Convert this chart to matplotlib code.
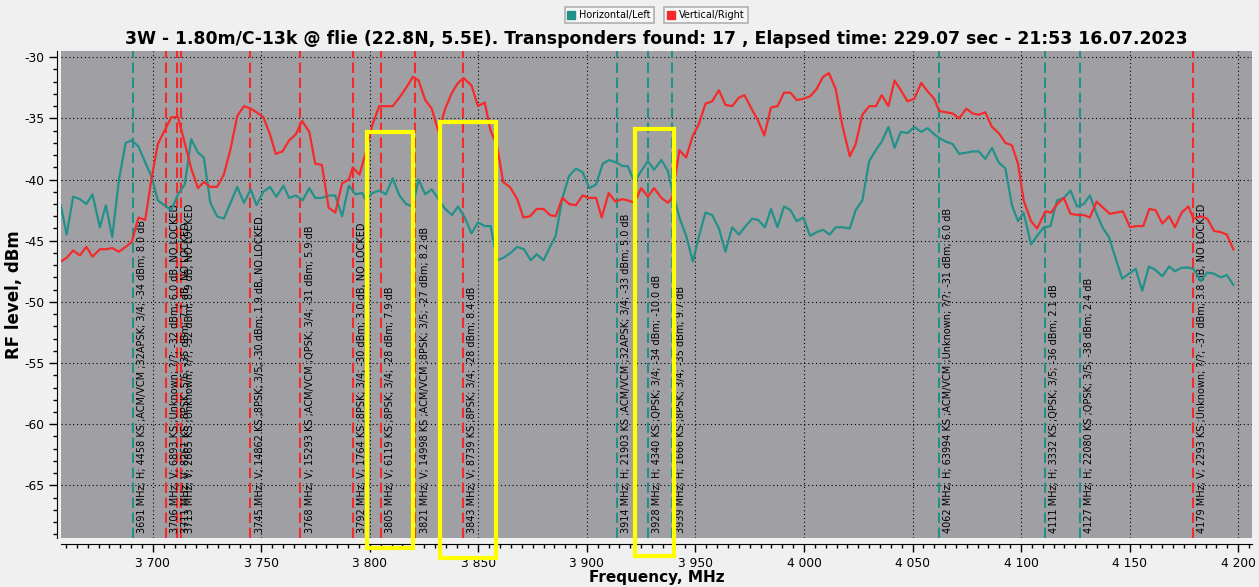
import matplotlib
matplotlib.use("Agg")
import matplotlib.pyplot as plt
from matplotlib.ticker import MultipleLocator, FuncFormatter
from matplotlib.lines import Line2D
from matplotlib.patches import Rectangle

# ---------------- data ----------------
h_freq = [3657.6, 3660.3, 3663.3, 3666.4, 3669.4, 3672.2, 3675.6, 3678.4, 3681.3, 3684.4,
          3687.5, 3690.3, 3693.4, 3696.5, 3699.5, 3702.3, 3705.4, 3708.5, 3711.6, 3714.7,
          3717.7, 3720.8, 3723.5, 3726.5, 3729.6, 3732.7, 3735.8, 3738.9, 3742.0, 3745.1,
          3747.8, 3750.9, 3754.0, 3756.9, 3760.2, 3762.8, 3765.9, 3769.0, 3772.1, 3774.8,
          3777.9, 3781.0, 3784.1, 3787.2, 3790.3, 3793.4, 3796.5, 3798.1, 3801.2, 3804.3,
          3807.4, 3810.5, 3813.6, 3816.7, 3819.8, 3822.4, 3825.5, 3828.5, 3831.6, 3834.7,
          3837.8, 3840.6, 3843.7, 3846.8, 3849.8, 3852.9, 3855.6, 3858.6, 3861.4, 3864.8,
          3867.9, 3871.0, 3874.1, 3876.9, 3880.0, 3883.0, 3885.6, 3888.7, 3891.8, 3894.9,
          3898.0, 3901.1, 3904.2, 3907.3, 3910.3, 3913.4, 3916.5, 3918.8, 3921.9, 3925.0,
          3928.1, 3930.9, 3934.3, 3937.3, 3939.2, 3942.6, 3945.7, 3948.8, 3951.5, 3954.6,
          3957.7, 3960.8, 3963.8, 3966.9, 3970.0, 3973.1, 3976.2, 3978.9, 3982.0, 3984.8,
          3987.8, 3990.8, 3993.8, 3996.6, 3999.7, 4002.8, 4005.8, 4008.8, 4011.8, 4014.6,
          4017.7, 4021.1, 4023.8, 4026.9, 4030.0, 4033.1, 4035.8, 4038.9, 4041.7, 4044.6,
          4047.7, 4050.8, 4054.0, 4057.0, 4060.0, 4062.3, 4065.4, 4068.5, 4071.5, 4074.8,
          4077.7, 4080.5, 4083.5, 4086.6, 4089.7, 4092.8, 4095.8, 4098.6, 4101.2, 4104.6,
          4107.4, 4110.5, 4113.5, 4116.6, 4119.7, 4122.8, 4125.8, 4128.9, 4131.7, 4134.8,
          4137.8, 4140.5, 4143.5, 4146.6, 4149.7, 4152.8, 4155.8, 4158.9, 4162.0, 4165.1,
          4168.2, 4170.9, 4174.0, 4177.1, 4179.4, 4182.8, 4185.8, 4188.9, 4192.0, 4194.8,
          4197.8]
h_level = [-42.1, -44.5, -41.4, -41.6, -42.0, -41.2, -43.9, -42.1, -44.7, -40.0,
           -37.0, -36.8, -37.3, -38.6, -39.8, -41.7, -42.1, -42.5, -41.2, -40.4,
           -36.7, -37.8, -38.2, -41.9, -43.0, -43.2, -41.9, -40.6, -41.9, -40.8,
           -42.1, -41.0, -40.6, -41.4, -40.5, -41.5, -41.3, -41.7, -40.7, -41.5,
           -41.5, -41.3, -41.3, -43.0, -40.5, -41.2, -41.1, -41.7, -41.1, -40.9,
           -41.2, -39.9, -41.3, -42.0, -42.2, -40.0, -41.2, -40.8, -41.6, -42.4,
           -42.9, -42.2, -43.1, -44.4, -43.5, -43.8, -43.8, -46.6, -46.4, -46.0,
           -45.5, -45.7, -46.6, -46.1, -46.6, -45.5, -44.6, -41.5, -39.7, -39.1,
           -39.4, -40.7, -40.4, -38.7, -38.4, -38.6, -38.9, -38.9, -40.2, -39.3,
           -38.5, -39.2, -38.4, -39.3, -40.8, -43.1, -44.6, -46.7, -44.7, -42.7,
           -42.9, -44.0, -45.9, -43.9, -44.5, -43.8, -43.2, -43.3, -43.9, -42.4,
           -43.9, -42.2, -42.5, -43.4, -43.1, -44.6, -44.3, -44.1, -44.5, -43.9,
           -43.9, -44.0, -42.5, -41.7, -38.5, -37.6, -36.9, -35.7, -37.4, -36.1,
           -36.2, -35.7, -36.1, -35.8, -36.3, -36.6, -36.9, -37.1, -37.9, -37.8,
           -37.7, -37.7, -38.3, -37.4, -38.6, -39.1, -42.1, -43.4, -42.7, -45.3,
           -44.6, -43.9, -43.8, -41.7, -41.5, -40.9, -42.2, -42.0, -41.3, -42.8,
           -44.0, -44.7, -46.4, -48.1, -47.7, -47.3, -49.1, -47.1, -47.4, -47.9,
           -47.1, -47.5, -47.2, -47.2, -47.3, -48.3, -47.6, -47.7, -48.0, -47.8,
           -48.6]

v_freq = [3657.6, 3660.3, 3663.3, 3666.4, 3669.4, 3672.2, 3675.6, 3678.4, 3681.3, 3684.4,
          3687.5, 3690.3, 3693.4, 3696.5, 3699.5, 3702.3, 3705.4, 3708.5, 3711.6, 3714.7,
          3717.7, 3720.8, 3723.5, 3726.5, 3729.6, 3732.7, 3735.8, 3738.9, 3742.0, 3745.1,
          3747.8, 3750.9, 3754.0, 3756.6, 3759.7, 3762.8, 3765.9, 3768.7, 3772.1, 3774.8,
          3777.9, 3781.0, 3784.1, 3787.2, 3790.3, 3792.1, 3795.2, 3798.1, 3801.2, 3804.3,
          3807.4, 3810.5, 3813.6, 3816.7, 3819.8, 3822.4, 3825.5, 3828.5, 3831.6, 3834.7,
          3837.8, 3840.6, 3843.2, 3846.8, 3849.8, 3852.9, 3855.6, 3858.6, 3861.4, 3864.5,
          3867.9, 3870.7, 3873.8, 3876.9, 3880.0, 3883.0, 3885.6, 3888.7, 3891.8, 3894.9,
          3898.0, 3901.1, 3904.2, 3906.8, 3910.0, 3913.1, 3916.2, 3918.8, 3921.9, 3925.0,
          3928.1, 3930.9, 3934.3, 3937.3, 3939.2, 3942.6, 3945.7, 3948.8, 3951.5, 3954.6,
          3957.7, 3960.8, 3963.8, 3966.9, 3970.0, 3972.6, 3975.8, 3978.9, 3981.7, 3984.8,
          3987.8, 3990.8, 3993.8, 3996.6, 3999.7, 4002.8, 4005.8, 4008.8, 4011.5, 4014.6,
          4017.7, 4021.1, 4023.8, 4026.9, 4030.0, 4033.1, 4035.8, 4038.9, 4041.7, 4044.6,
          4047.7, 4050.8, 4054.0, 4057.0, 4060.0, 4062.3, 4065.4, 4068.5, 4071.5, 4074.8,
          4077.7, 4080.5, 4083.5, 4086.6, 4089.7, 4092.8, 4095.8, 4098.6, 4101.2, 4104.6,
          4107.4, 4111.2, 4113.8, 4116.6, 4119.7, 4122.8, 4126.2, 4128.9, 4131.7, 4134.8,
          4137.8, 4140.9, 4144.0, 4146.9, 4150.2, 4153.2, 4156.3, 4159.1, 4162.0, 4165.1,
          4168.2, 4170.9, 4174.0, 4177.1, 4179.4, 4182.8, 4185.8, 4188.9, 4192.0, 4194.8,
          4197.8]
v_level = [-46.7, -46.4, -45.8, -46.2, -45.5, -46.3, -45.7, -45.7, -45.6, -45.9,
           -45.5, -45.1, -43.1, -43.3, -39.8, -37.1, -36.0, -34.9, -34.9, -37.0,
           -39.1, -40.7, -40.2, -40.6, -40.6, -39.6, -37.5, -34.8, -34.0, -34.2,
           -34.5, -34.9, -36.3, -37.9, -37.7, -36.8, -36.3, -35.2, -36.1, -38.7,
           -38.8, -42.3, -42.7, -40.3, -40.0, -39.0, -39.6, -37.8, -35.5, -34.0,
           -34.0, -34.0, -33.3, -32.5, -31.6, -31.9, -33.5, -34.2, -36.1, -34.2,
           -32.9, -32.1, -31.7, -32.3, -34.0, -33.7, -36.0, -37.2, -40.2, -40.6,
           -41.6, -43.1, -43.0, -42.4, -42.4, -42.9, -43.0, -41.5, -42.0, -42.1,
           -41.3, -41.5, -41.5, -43.1, -41.1, -41.8, -41.6, -41.7, -41.9, -40.7,
           -41.4, -40.7, -41.5, -41.9, -41.5, -37.6, -38.2, -36.4, -35.5, -33.8,
           -33.6, -32.7, -33.9, -34.0, -33.3, -33.1, -34.2, -35.2, -36.4, -34.1,
           -34.0, -32.9, -32.9, -33.5, -33.4, -33.2, -32.6, -31.6, -31.3, -32.6,
           -35.6, -38.1, -37.1, -34.7, -34.0, -34.0, -33.1, -34.0, -31.9, -32.7,
           -33.6, -33.4, -32.1, -32.8, -33.4, -34.4, -34.5, -34.6, -35.0, -34.2,
           -34.6, -34.7, -34.5, -35.7, -36.2, -37.0, -37.2, -38.7, -41.7, -43.4,
           -44.0, -42.6, -42.7, -42.0, -41.5, -42.8, -42.9, -42.9, -43.1, -41.8,
           -42.3, -42.8, -42.7, -42.6, -43.9, -43.8, -43.8, -42.4, -42.5, -43.6,
           -43.0, -43.9, -42.7, -42.2, -43.2, -43.0, -43.2, -44.2, -44.3, -44.5,
           -45.7]

tp_freq = [3691, 3706, 3711, 3713, 3745, 3768, 3792, 3805, 3821, 3843,
           3914, 3928, 3939, 4062, 4111, 4127, 4179]
tp_pol = ["H", "V", "V", "V", "V", "V", "V", "V", "V", "V",
          "H", "H", "H", "H", "H", "H", "V"]
tp_label = [
    "3691 MHz; H; 4458 KS ;ACM/VCM ;32APSK; 3/4; -34 dBm; 8.0 dB",
    "3706 MHz; V; 6893 KS ;Unknown; ?/?; -32 dBm; 6.0 dB, NO LOCKED",
    "3711 MHz; V; 8261 KS ;8PSK; 5/6; -35 dBm; 7.1 dB, NO LOCKED",
    "3713 MHz; V; 2865 KS ;Unknown; ?/?; -32 dBm; 8.9 dB, NO LOCKED",
    "3745 MHz; V; 14862 KS ;8PSK; 3/5; -30 dBm; 1.9 dB, NO LOCKED",
    "3768 MHz; V; 15293 KS ;ACM/VCM ;QPSK; 3/4; -31 dBm; 5.9 dB",
    "3792 MHz; V; 1764 KS ;8PSK; 3/4; -30 dBm; 3.0 dB, NO LOCKED",
    "3805 MHz; V; 6119 KS ;8PSK; 3/4; -28 dBm; 7.9 dB",
    "3821 MHz; V; 14998 KS ;ACM/VCM ;8PSK; 3/5; -27 dBm; 8.2 dB",
    "3843 MHz; V; 8739 KS ;8PSK; 3/4; -28 dBm; 8.4 dB",
    "3914 MHz; H; 21903 KS ;ACM/VCM ;32APSK; 3/4; -33 dBm; 5.0 dB",
    "3928 MHz; H; 4340 KS ;QPSK; 3/4; -34 dBm; -10.0 dB",
    "3939 MHz; H; 1666 KS ;8PSK; 3/4; -35 dBm; 9.7 dB",
    "4062 MHz; H; 63994 KS ;ACM/VCM ;Unknown; ?/?; -31 dBm; 6.0 dB",
    "4111 MHz; H; 3332 KS ;QPSK; 3/5; -36 dBm; 2.1 dB",
    "4127 MHz; H; 22080 KS ;QPSK; 3/5; -38 dBm; 2.4 dB",
    "4179 MHz; V; 2293 KS ;Unknown; ?/?; -37 dBm; 3.8 dB, NO LOCKED",
]

# highlight boxes (freq_lo, freq_hi, level_top, level_bottom)
box_f0 = [3798.6, 3832.1, 3922.3]
box_f1 = [3819.8, 3858.2, 3939.9]
box_top = [-36.1, -35.3, -35.9]
box_bot = [-70.1, -70.9, -70.75]

title = ("3W - 1.80m/C-13k @ flie (22.8N, 5.5E). Transponders found: 17 , "
         "Elapsed time: 229.07 sec - 21:53 16.07.2023")

# ---------------- style ----------------
TEAL = "#23918a"
RED = "#f52a2a"
BG = "#f0f0f0"
PLOT_BG = "#a0a0a4"

fig = plt.figure(figsize=(12.59, 5.87), dpi=100, facecolor=BG)
W, H = 1259, 587
left, right, top, bottom = 61, 1252, 50.5, 538
ax = fig.add_axes([left / W, 1 - bottom / H, (right - left) / W, (bottom - top) / H])
ax.set_facecolor(PLOT_BG)

ax.set_xlim(3657.7, 4206.4)
ax.set_ylim(-69.3, -29.45)

ax.xaxis.set_major_locator(MultipleLocator(50))
ax.xaxis.set_minor_locator(MultipleLocator(5))
ax.yaxis.set_major_locator(MultipleLocator(5))
ax.yaxis.set_minor_locator(MultipleLocator(1))
ax.xaxis.set_major_formatter(FuncFormatter(lambda v, p: f"{int(round(v)):,}".replace(",", " ")))
ax.yaxis.set_major_formatter(FuncFormatter(lambda v, p: f"{int(round(v))}"))

for s in ["top", "right"]:
    ax.spines[s].set_visible(False)
ax.spines["left"].set_position(("outward", 3))
ax.spines["bottom"].set_position(("outward", 4))
ax.spines["left"].set_color("black")
ax.spines["bottom"].set_color("black")
ax.tick_params(axis="both", which="major", direction="out", length=6, width=1, labelsize=8.8, colors="black")
ax.tick_params(axis="both", which="minor", direction="out", length=3, width=1)
ax.tick_params(axis="x", pad=4)
ax.tick_params(axis="y", pad=3)

ax.grid(True, which="major", color="black", linestyle=(0, (1, 2.5)), linewidth=0.8)
ax.set_axisbelow(True)

# transponder markers
for f, pol, lab in zip(tp_freq, tp_pol, tp_label):
    c = TEAL if pol == "H" else RED
    ax.axvline(f, color=c, linewidth=1.5, linestyle=(0, (5, 2.2)), zorder=2)
    ax.annotate(lab, xy=(f, -69.3), xytext=(3.0, 3.5), textcoords="offset points",
                rotation=90, ha="left", va="bottom", fontsize=7, color="black", zorder=3)

# spectra
ax.plot(h_freq, h_level, color=TEAL, linewidth=1.6, zorder=4)
ax.plot(v_freq, v_level, color=RED, linewidth=1.6, zorder=4)

# highlight boxes
for f0, f1, t, b in zip(box_f0, box_f1, box_top, box_bot):
    ax.add_patch(Rectangle((f0, b), f1 - f0, t - b, fill=False, edgecolor="#ffff00",
                           linewidth=3, clip_on=False, zorder=6))

ax.set_ylabel("RF level, dBm", fontsize=12, fontweight="bold")
ax.yaxis.set_label_coords((23 - left) / (right - left), 0.5)
ax.set_xlabel("Frequency, MHz", fontsize=11, fontweight="bold")
ax.xaxis.set_label_coords(0.5, (bottom - 570) / (bottom - top))

fig.text((left + right) / 2 / W, 1 - 39 / H, title, ha="center", va="center",
         fontsize=12.4, fontweight="bold")

# legend (two separate button-like boxes)
h1 = Line2D([], [], color=TEAL, marker="s", linestyle="none", markersize=6)
h2 = Line2D([], [], color=RED, marker="s", linestyle="none", markersize=6)
for h, lab, x in [(h1, "Horizontal/Left", 609 / W), (h2, "Vertical/Right", 706 / W)]:
    lg = fig.legend(handles=[h], labels=[lab], loc="center", bbox_to_anchor=(x, 1 - 15 / H),
                    fontsize=7, frameon=True, fancybox=False, handlelength=0.7,
                    handletextpad=0.4, borderpad=0.35, borderaxespad=0)
    lg.get_frame().set_edgecolor("#a0a0a0")
    lg.get_frame().set_facecolor("#f8f8f8")
    lg.get_frame().set_linewidth(1.2)

fig.savefig("out.png", dpi=100, facecolor=BG)
